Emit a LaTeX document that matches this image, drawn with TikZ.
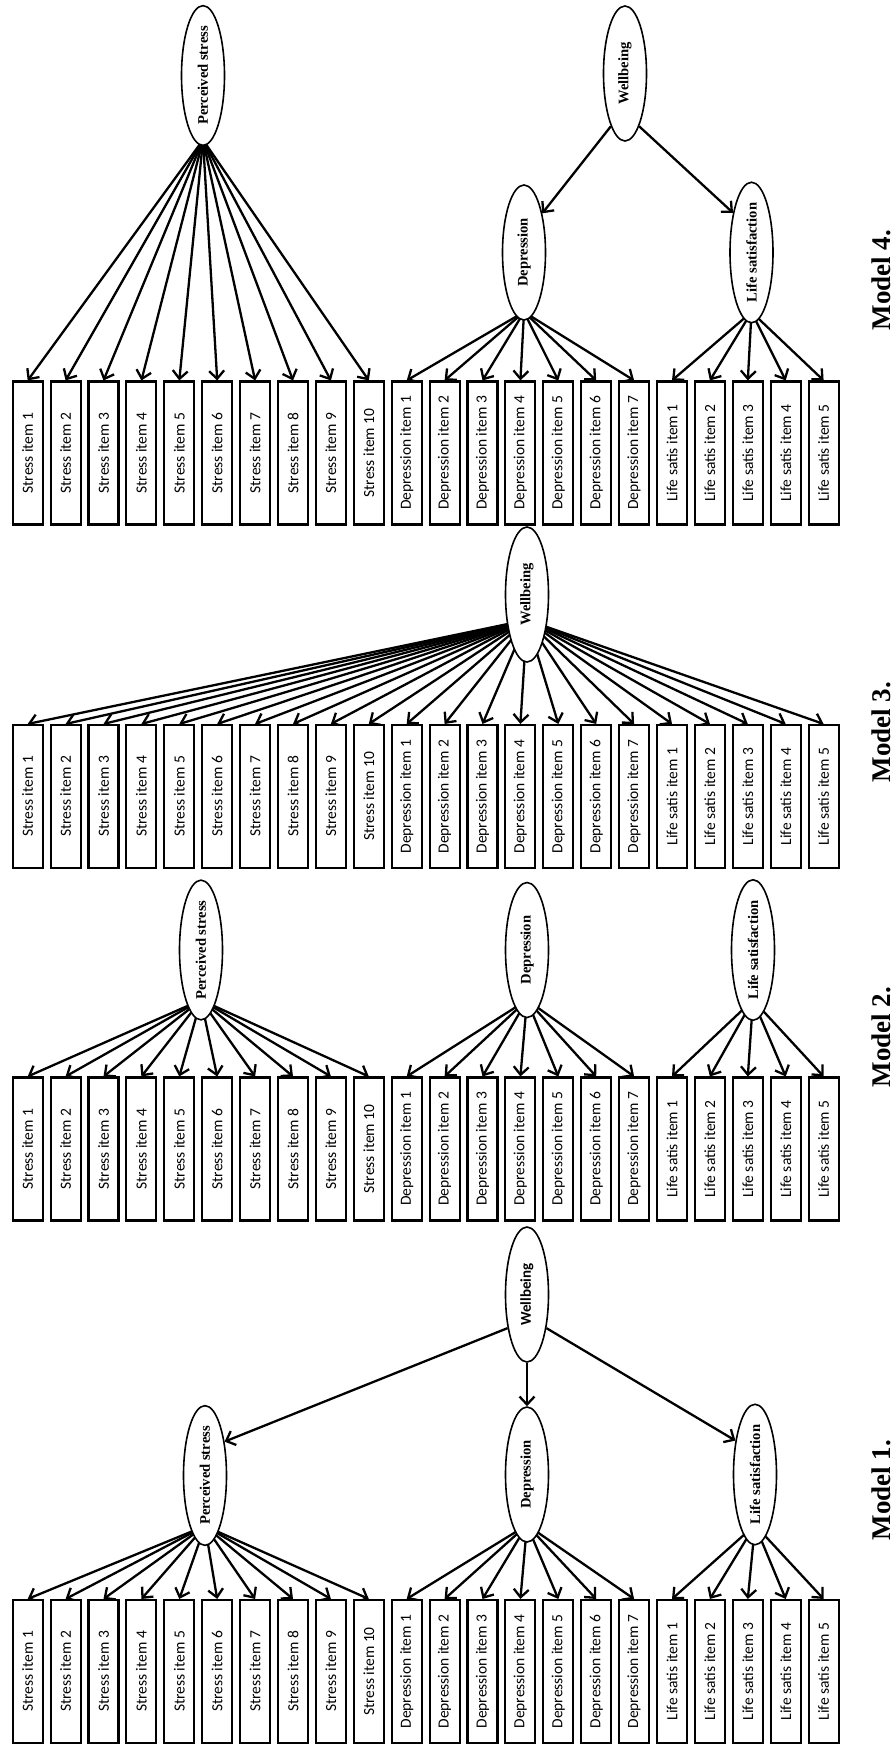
\documentclass[tikz,border=0pt]{standalone}
\usepackage{fontspec}
\usepackage{graphicx}
\setmainfont{Liberation Serif}
\newfontfamily\itemfont{Carlito}
\newfontfamily\latfont{Liberation Serif}
\newfontfamily\wbfont{Carlito}
\usetikzlibrary{shapes.geometric,arrows.meta}
\pgfdeclarelayer{bg}
\pgfsetlayers{bg,main}
\begin{document}
\begin{tikzpicture}[x=1pt,y=-1pt,
  item/.style={draw, line width=2.1pt, fill=white, minimum width=30pt, minimum height=143pt, inner sep=0pt,
    font=\itemfont\fontsize{15.5}{18}\selectfont},
  lat/.style={draw, ellipse, line width=1.6pt, fill=white, minimum width=43pt, minimum height=135pt, inner sep=0pt,
    font=\latfont\bfseries\fontsize{14.6}{16}\selectfont},
  latsans/.style={lat, font=\wbfont\bfseries\fontsize{15}{17}\selectfont},
  load/.style={line width=2.3pt, -{Straight Barb[length=8pt,width=15pt,line width=2.3pt]}},
  modlab/.style={inner sep=0pt, font=\latfont\bfseries\fontsize{27}{30}\selectfont}]
\useasboundingbox (0,0) rectangle (891,1747);

% ---- indicator boxes for the four models
\foreach \m/\yc in {1/1671.5, 2/1149, 3/796.5, 4/453} {
  \foreach \i in {1,...,10}
    \node[item] (m\m-s\i) at ({27.7+37.9*(\i-1)}, \yc) {\rotatebox{90}{Stress item \i}};
  \foreach \i in {1,...,7}
    \node[item] (m\m-d\i) at ({27.7+37.9*(\i+9)}, \yc) {\rotatebox{90}{Depression item \i}};
  \foreach \i in {1,...,5}
    \node[item] (m\m-l\i) at ({27.7+37.9*(\i+16)}, \yc) {\rotatebox{90}{Life satis item \i}};
}

% ---- latent variables
% Model 1
\node[latsans] (m1-wb) at (527, 1294.5) {\rotatebox{90}{Wellbeing}};
\node[lat] (m1-ps) at (205, 1475.5) {\rotatebox{90}{Perceived stress}};
\node[lat] (m1-dp) at (527, 1474.5) {\rotatebox{90}{Depression}};
\node[lat] (m1-ls) at (755, 1474.5) {\rotatebox{90}{Life satisfaction}};
% Model 2
\node[lat] (m2-ps) at (201, 950) {\rotatebox{90}{Perceived stress}};
\node[lat] (m2-dp) at (527, 950) {\rotatebox{90}{Depression}};
\node[lat] (m2-ls) at (753, 950) {\rotatebox{90}{Life satisfaction}};
% Model 3
\node[lat] (m3-wb) at (527, 594.5) {\rotatebox{90}{Wellbeing}};
% Model 4
\node[lat] (m4-ps) at (203, 75.5) {\rotatebox{90}{Perceived stress}};
\node[lat] (m4-wb) at (625, 73.5) {\rotatebox{90}{Wellbeing}};
\node[lat] (m4-dp) at (524, 252.5) {\rotatebox{90}{Depression}};
\node[lat] (m4-ls) at (751.5, 252.5) {\rotatebox{90}{Life satisfaction}};

% hubs from which the loadings fan out (hidden under the ellipses)
\coordinate (m1-psh) at (205, 1526);
\coordinate (m1-dph) at (527, 1525);
\coordinate (m1-lsh) at (755, 1525);
\coordinate (m2-psh) at (201, 1000);
\coordinate (m2-dph) at (527, 1000);
\coordinate (m2-lsh) at (753, 1000);
\coordinate (m3-wbh) at (527, 620);
\coordinate (m4-psh) at (203, 140);
\coordinate (m4-dph) at (524, 312);
\coordinate (m4-lsh) at (751.5, 312);

% ---- loadings
\begin{pgfonlayer}{bg}
\foreach \m in {1,2,4} {
  \foreach \i in {1,...,10} \draw[load] (m\m-psh) -- (m\m-s\i.north);
  \foreach \i in {1,...,7} \draw[load] (m\m-dph) -- (m\m-d\i.north);
  \foreach \i in {1,...,5} \draw[load] (m\m-lsh) -- (m\m-l\i.north);
}
\foreach \i in {1,...,10} \draw[load] (m3-wbh) -- (m3-s\i.north);
\foreach \i in {1,...,7} \draw[load] (m3-wbh) -- (m3-d\i.north);
\foreach \i in {1,...,5} \draw[load] (m3-wbh) -- (m3-l\i.north);
\end{pgfonlayer}

% ---- structural paths
\draw[load] (m1-wb.-120) -- (m1-ps.60);
\draw[load] (m1-wb.south) -- (m1-dp.north);
\draw[load] (m1-wb.-60) -- (m1-ls.120);
\draw[load] (m4-wb.-105) -- (m4-dp.65);
\draw[load] (m4-wb.-75) -- (m4-ls.115);

% ---- model labels
\node[modlab] (lab1) at (881, 1490) {\rotatebox{90}{Model 1.}};
\node[modlab] (lab2) at (881, 1037) {\rotatebox{90}{Model 2.}};
\node[modlab] (lab3) at (881, 732) {\rotatebox{90}{Model 3.}};
\node[modlab] (lab4) at (881, 280) {\rotatebox{90}{Model 4.}};
\end{tikzpicture}
\end{document}
